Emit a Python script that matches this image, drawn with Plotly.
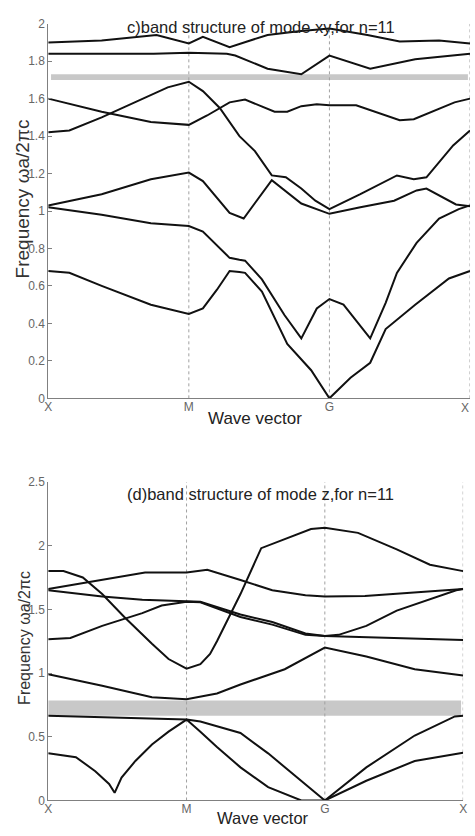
import plotly.graph_objects as go

# ---------------- data: (c) mode xy, n=11 ----------------
xy_tick_labels = ["X", "M", "G", "X"]

xy_A_k = [0, 0.38, 0.77, 1.0, 1.1, 1.29, 1.56, 1.78, 2.0, 2.27, 2.5, 2.78, 3.0]
xy_A_f = [1.90, 1.91, 1.94, 1.895, 1.93, 1.875, 1.94, 1.96, 1.975, 1.94, 1.905, 1.91, 1.895]

xy_B_k = [0, 0.75, 1.0, 1.27, 1.33, 1.56, 1.8, 2.0, 2.29, 2.61, 3.0]
xy_B_f = [1.84, 1.84, 1.845, 1.84, 1.83, 1.76, 1.73, 1.83, 1.76, 1.81, 1.84]

xy_C_k = [0, 0.38, 0.73, 1.0, 1.13, 1.29, 1.4, 1.61, 1.7, 1.8, 1.91, 2.0, 2.19, 2.5, 2.6, 2.89, 3.0]
xy_C_f = [1.60, 1.53, 1.475, 1.46, 1.51, 1.58, 1.595, 1.53, 1.53, 1.56, 1.57, 1.565, 1.565, 1.485, 1.49, 1.58, 1.60]

xy_D_k = [0, 0.15, 0.38, 0.62, 0.85, 1.0, 1.1, 1.22, 1.36, 1.47, 1.59, 1.69, 1.8, 1.9, 2.0, 2.22, 2.48, 2.6, 2.69, 2.88, 3.0]
xy_D_f = [1.42, 1.43, 1.50, 1.58, 1.66, 1.69, 1.64, 1.55, 1.40, 1.32, 1.19, 1.18, 1.12, 1.055, 1.01, 1.09, 1.19, 1.17, 1.18, 1.35, 1.43]

xy_E_k = [0, 0.38, 0.73, 1.0, 1.1, 1.29, 1.39, 1.59, 1.8, 1.97, 2.0, 2.22, 2.46, 2.62, 2.69, 2.9, 3.0]
xy_E_f = [1.03, 1.09, 1.17, 1.205, 1.16, 0.99, 0.96, 1.165, 1.04, 0.99, 0.985, 1.02, 1.055, 1.11, 1.12, 1.035, 1.025]

xy_F_k = [0, 0.38, 0.73, 1.0, 1.1, 1.22, 1.29, 1.36, 1.4, 1.52, 1.68, 1.8, 1.91, 2.0, 2.1, 2.29, 2.4, 2.48, 2.62, 2.78, 2.92, 3.0]
xy_F_f = [1.02, 0.98, 0.935, 0.92, 0.89, 0.80, 0.75, 0.74, 0.735, 0.635, 0.445, 0.32, 0.48, 0.53, 0.50, 0.32, 0.51, 0.67, 0.83, 0.96, 1.01, 1.03]

xy_G_k = [0, 0.15, 0.38, 0.73, 1.0, 1.1, 1.2, 1.29, 1.36, 1.4, 1.52, 1.7, 1.87, 2.0, 2.15, 2.29, 2.4, 2.61, 2.85, 3.0]
xy_G_f = [0.68, 0.67, 0.60, 0.50, 0.45, 0.48, 0.58, 0.68, 0.675, 0.67, 0.57, 0.29, 0.15, 0.0, 0.11, 0.19, 0.37, 0.50, 0.64, 0.68]

xy_gap = [1.70, 1.73]

# ---------------- data: (d) mode z, n=11 ----------------
z_P_k = [0, 0.11, 0.25, 0.39, 0.55, 0.70, 0.75, 0.87, 1.0, 1.1, 1.17, 1.22, 1.39, 1.54, 1.74, 1.9, 2.0, 2.24, 2.52, 2.76, 3.0]
z_P_f = [1.80, 1.80, 1.75, 1.62, 1.44, 1.28, 1.23, 1.11, 1.035, 1.07, 1.15, 1.25, 1.62, 1.98, 2.06, 2.13, 2.14, 2.10, 1.97, 1.85, 1.80]

z_Q_k = [0, 0.39, 0.70, 1.0, 1.15, 1.39, 1.62, 1.86, 2.0, 2.29, 2.64, 3.0]
z_Q_f = [1.66, 1.73, 1.79, 1.79, 1.81, 1.73, 1.65, 1.61, 1.60, 1.605, 1.63, 1.66]

z_R_k = [0, 0.39, 0.68, 1.0, 1.1, 1.39, 1.62, 1.86, 2.0, 2.1, 2.3, 2.52, 2.95, 3.0]
z_R_f = [1.65, 1.60, 1.575, 1.565, 1.56, 1.46, 1.40, 1.31, 1.29, 1.30, 1.37, 1.49, 1.65, 1.66]

z_S_k = [0, 0.16, 0.39, 0.68, 0.82, 1.0, 1.1, 1.39, 1.62, 1.86, 2.0, 2.52, 3.0]
z_S_f = [1.265, 1.275, 1.37, 1.47, 1.53, 1.56, 1.555, 1.44, 1.38, 1.30, 1.29, 1.275, 1.26]

z_T_k = [0, 0.39, 0.75, 1.0, 1.22, 1.39, 1.71, 2.0, 2.3, 2.65, 3.0]
z_T_f = [0.99, 0.90, 0.81, 0.795, 0.84, 0.91, 1.03, 1.20, 1.13, 1.03, 0.98]

z_U_k = [0, 0.53, 1.0, 1.1, 1.39, 1.59, 1.83, 2.0, 2.3, 2.65, 2.94, 3.0]
z_U_f = [0.665, 0.65, 0.635, 0.62, 0.53, 0.37, 0.15, 0.0, 0.26, 0.51, 0.66, 0.665]

z_V_k = [0, 0.2, 0.34, 0.44, 0.48, 0.53, 0.63, 0.75, 0.87, 1.0, 1.1, 1.22, 1.39, 1.59, 1.83, 2.0, 2.3, 2.65, 3.0]
z_V_f = [0.37, 0.34, 0.23, 0.13, 0.06, 0.18, 0.31, 0.44, 0.54, 0.635, 0.54, 0.42, 0.26, 0.105, 0.0, 0.0, 0.155, 0.31, 0.375]

z_gap = [0.665, 0.785]

W, H = 475, 836
FONT = "Liberation Sans, Arial, sans-serif"


def py(p):
    return 1 - p / H


fig = go.Figure()

xy_bands = [(xy_A_k, xy_A_f), (xy_B_k, xy_B_f), (xy_C_k, xy_C_f), (xy_D_k, xy_D_f),
            (xy_E_k, xy_E_f), (xy_F_k, xy_F_f), (xy_G_k, xy_G_f)]
z_bands = [(z_P_k, z_P_f), (z_Q_k, z_Q_f), (z_R_k, z_R_f), (z_S_k, z_S_f),
           (z_T_k, z_T_f), (z_U_k, z_U_f), (z_V_k, z_V_f)]

for k, f in xy_bands:
    fig.add_trace(go.Scatter(x=k, y=f, mode="lines", xaxis="x", yaxis="y",
                             line=dict(color="#111111", width=2), showlegend=False,
                             hoverinfo="skip"))
for k, f in z_bands:
    fig.add_trace(go.Scatter(x=k, y=f, mode="lines", xaxis="x2", yaxis="y2",
                             line=dict(color="#111111", width=2), showlegend=False,
                             hoverinfo="skip"))

shapes = []
# band gaps
shapes.append(dict(type="rect", xref="x", yref="y", x0=0.02, x1=2.985, y0=xy_gap[0], y1=xy_gap[1],
                   fillcolor="#c8c8c8", line=dict(width=0), layer="below"))
shapes.append(dict(type="rect", xref="x2", yref="y2", x0=0.0, x1=2.985, y0=z_gap[0], y1=z_gap[1],
                   fillcolor="#c8c8c8", line=dict(width=0), layer="below"))
# dotted symmetry-point lines
for kv in [1, 2, 3]:
    shapes.append(dict(type="line", xref="x", yref="y", x0=kv, x1=kv, y0=0, y1=2,
                       line=dict(color="#a0a0a0", width=1, dash="dot"), layer="below"))
    shapes.append(dict(type="line", xref="x2", yref="y2", x0=kv, x1=kv, y0=0, y1=2.5,
                       line=dict(color="#a0a0a0", width=1, dash="dot"), layer="below"))

axis_common = dict(showgrid=False, zeroline=False, showline=True, linecolor="#808080",
                   linewidth=1, tickfont=dict(family=FONT, size=12, color="#666666"))

ann = []
ann.append(dict(text="c)band structure of mode xy,for n=11", xref="paper", yref="paper",
                x=261 / W, y=py(20.5), xanchor="center", yanchor="middle", showarrow=False,
                font=dict(family=FONT, size=16.5, color="#222222")))
ann.append(dict(text="(d)band structure of mode z,for n=11", xref="paper", yref="paper",
                x=261 / W, y=py(495), xanchor="center", yanchor="middle", showarrow=False,
                font=dict(family=FONT, size=16.5, color="#222222")))
ann.append(dict(text="Wave vector", xref="paper", yref="paper",
                x=255 / W, y=py(418), xanchor="center", yanchor="middle", showarrow=False,
                font=dict(family=FONT, size=17, color="#222222")))
ann.append(dict(text="Wave vector", xref="paper", yref="paper",
                x=263 / W, y=0, xanchor="center", yanchor="bottom", showarrow=False,
                font=dict(family=FONT, size=16.5, color="#222222")))
ann.append(dict(text="Frequency ωa/2πc", xref="paper", yref="paper", textangle=-90,
                x=19 / W, y=py(195), xanchor="center", yanchor="middle", showarrow=False,
                font=dict(family=FONT, size=19, color="#333333")))
ann.append(dict(text="Frequency ωa/2πc", xref="paper", yref="paper", textangle=-90,
                x=21 / W, y=py(642), xanchor="center", yanchor="middle", showarrow=False,
                font=dict(family=FONT, size=16, color="#333333")))
# right-hand X label of the top panel (kept inside the page edge)
ann.append(dict(text=xy_tick_labels[3], xref="paper", yref="paper",
                x=1.0, y=py(398), xanchor="right", yanchor="top", yshift=-1, showarrow=False,
                font=dict(family=FONT, size=12, color="#666666")))

fig.update_layout(
    width=W, height=H, autosize=False,
    margin=dict(l=0, r=0, t=0, b=0),
    paper_bgcolor="white", plot_bgcolor="white",
    shapes=shapes, annotations=ann,
    xaxis=dict(domain=[45 / W, 474 / W], range=[0, 3], tickvals=[0, 1, 2],
               ticktext=xy_tick_labels[:3], ticks="", ticklabelstandoff=-3,
               anchor="y", **axis_common),
    yaxis=dict(domain=[py(398), py(17)], range=[0, 2], dtick=0.2, tick0=0,
               ticks="inside", ticklen=4, tickcolor="#808080", anchor="x", **axis_common),
    xaxis2=dict(domain=[45 / W, 467 / W], range=[0, 3], tickvals=[0, 1, 2, 3],
                ticktext=xy_tick_labels, ticks="", ticklabelstandoff=-3,
                anchor="y2", **axis_common),
    yaxis2=dict(domain=[py(807), py(483)], range=[0, 2.5], dtick=0.5, tick0=0,
                ticks="inside", ticklen=4, tickcolor="#808080", anchor="x2", **axis_common),
)

fig.write_html("out.html", config={"displayModeBar": False},
               post_script="document.body.style.margin='0';document.body.style.overflow='hidden';")
